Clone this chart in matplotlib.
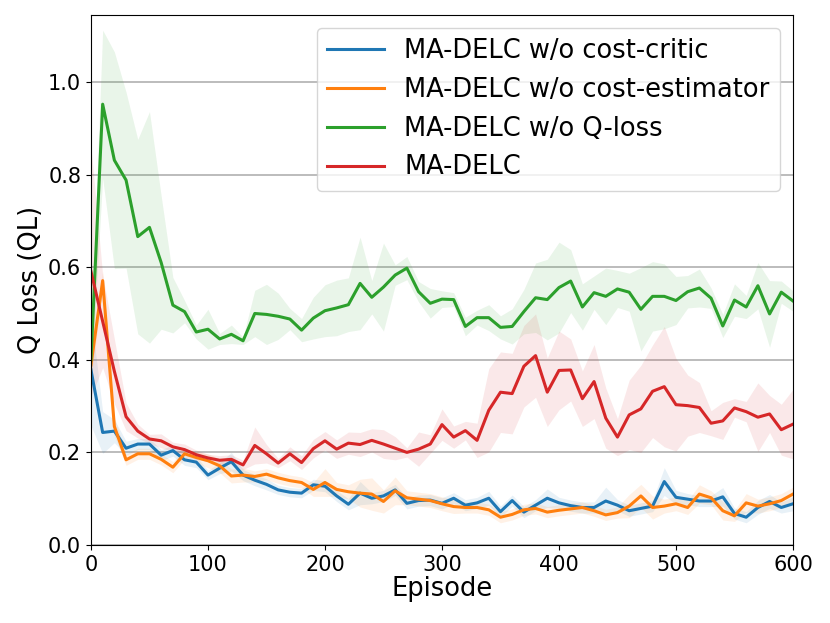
import numpy as np
import matplotlib
matplotlib.use("Agg")
import matplotlib.pyplot as plt

episodes = list(range(0, 601, 10))

labels = ["MA-DELC w/o cost-critic", "MA-DELC w/o cost-estimator",
          "MA-DELC w/o Q-loss", "MA-DELC"]

blue_mean = [0.378, 0.243, 0.246, 0.209, 0.218, 0.218, 0.194, 0.204, 0.184, 0.179,
             0.151, 0.166, 0.180, 0.151, 0.140, 0.131, 0.119, 0.114, 0.112, 0.130,
             0.127, 0.106, 0.088, 0.112, 0.101, 0.106, 0.119, 0.090, 0.096, 0.097,
             0.090, 0.101, 0.086, 0.091, 0.101, 0.072, 0.096, 0.071, 0.086, 0.101,
             0.091, 0.085, 0.081, 0.081, 0.095, 0.086, 0.074, 0.079, 0.084, 0.137,
             0.103, 0.099, 0.095, 0.095, 0.104, 0.068, 0.060, 0.081, 0.094, 0.081,
             0.089]
blue_std = [0.120, 0.045, 0.025, 0.015, 0.012, 0.012, 0.012, 0.012, 0.012, 0.012,
            0.010, 0.012, 0.020, 0.012, 0.012, 0.012, 0.010, 0.010, 0.010, 0.012,
            0.012, 0.012, 0.012, 0.025, 0.012, 0.012, 0.012, 0.012, 0.012, 0.012,
            0.012, 0.012, 0.012, 0.012, 0.015, 0.012, 0.012, 0.012, 0.012, 0.020,
            0.012, 0.012, 0.012, 0.012, 0.030, 0.012, 0.012, 0.012, 0.012, 0.030,
            0.015, 0.012, 0.012, 0.012, 0.020, 0.012, 0.012, 0.015, 0.015, 0.012,
            0.015]

orange_mean = [0.389, 0.571, 0.256, 0.184, 0.197, 0.197, 0.185, 0.168, 0.197, 0.189,
               0.182, 0.171, 0.149, 0.151, 0.148, 0.153, 0.145, 0.139, 0.135, 0.120,
               0.135, 0.120, 0.115, 0.112, 0.110, 0.094, 0.117, 0.102, 0.099, 0.096,
               0.089, 0.083, 0.081, 0.081, 0.076, 0.060, 0.066, 0.076, 0.079, 0.071,
               0.075, 0.078, 0.081, 0.074, 0.065, 0.070, 0.084, 0.106, 0.081, 0.084,
               0.089, 0.081, 0.110, 0.102, 0.074, 0.063, 0.091, 0.084, 0.089, 0.096,
               0.110]
orange_std = [0.030, 0.020, 0.020, 0.012, 0.012, 0.012, 0.012, 0.012, 0.012, 0.012,
              0.015, 0.015, 0.015, 0.015, 0.012, 0.012, 0.012, 0.012, 0.012, 0.015,
              0.030, 0.015, 0.015, 0.030, 0.035, 0.025, 0.030, 0.015, 0.015, 0.015,
              0.015, 0.015, 0.012, 0.012, 0.012, 0.012, 0.012, 0.012, 0.012, 0.012,
              0.012, 0.012, 0.012, 0.012, 0.012, 0.012, 0.025, 0.025, 0.025, 0.015,
              0.015, 0.015, 0.020, 0.015, 0.020, 0.012, 0.020, 0.015, 0.015, 0.015,
              0.015]

green_mean = [0.400, 0.952, 0.831, 0.788, 0.666, 0.686, 0.610, 0.518, 0.504, 0.460,
              0.466, 0.445, 0.455, 0.441, 0.500, 0.498, 0.494, 0.488, 0.464, 0.490,
              0.506, 0.512, 0.519, 0.565, 0.535, 0.557, 0.583, 0.598, 0.547, 0.522,
              0.531, 0.530, 0.472, 0.491, 0.491, 0.470, 0.472, 0.504, 0.534, 0.530,
              0.556, 0.570, 0.514, 0.545, 0.537, 0.553, 0.546, 0.509, 0.537, 0.537,
              0.528, 0.547, 0.555, 0.533, 0.473, 0.529, 0.514, 0.560, 0.499, 0.546,
              0.527]
green_std = [0.050, 0.160, 0.234, 0.190, 0.210, 0.250, 0.144, 0.060, 0.024, 0.015,
             0.043, 0.012, 0.020, 0.008, 0.050, 0.065, 0.050, 0.023, 0.025, 0.045,
             0.056, 0.060, 0.058, 0.100, 0.036, 0.095, 0.022, 0.025, 0.022, 0.032,
             0.018, 0.015, 0.020, 0.016, 0.028, 0.025, 0.038, 0.048, 0.075, 0.087,
             0.098, 0.068, 0.050, 0.036, 0.061, 0.040, 0.041, 0.090, 0.075, 0.070,
             0.052, 0.035, 0.041, 0.022, 0.025, 0.035, 0.025, 0.050, 0.072, 0.024,
             0.022]

red_mean = [0.591, 0.483, 0.375, 0.277, 0.246, 0.229, 0.225, 0.212, 0.206, 0.195,
            0.188, 0.183, 0.185, 0.173, 0.215, 0.197, 0.177, 0.197, 0.178, 0.208,
            0.225, 0.207, 0.220, 0.217, 0.226, 0.218, 0.209, 0.200, 0.207, 0.218,
            0.260, 0.233, 0.247, 0.226, 0.291, 0.330, 0.327, 0.386, 0.409, 0.330,
            0.377, 0.378, 0.316, 0.353, 0.274, 0.233, 0.281, 0.294, 0.332, 0.342,
            0.303, 0.301, 0.297, 0.263, 0.268, 0.296, 0.288, 0.276, 0.283, 0.249,
            0.261]
red_std = [0.270, 0.100, 0.070, 0.030, 0.015, 0.010, 0.015, 0.010, 0.012, 0.010,
           0.008, 0.010, 0.010, 0.010, 0.040, 0.020, 0.010, 0.015, 0.015, 0.020,
           0.020, 0.020, 0.024, 0.026, 0.025, 0.031, 0.025, 0.010, 0.037, 0.020,
           0.034, 0.024, 0.020, 0.037, 0.090, 0.087, 0.087, 0.088, 0.090, 0.074,
           0.085, 0.067, 0.060, 0.080, 0.065, 0.040, 0.075, 0.094, 0.100, 0.130,
           0.100, 0.066, 0.054, 0.027, 0.040, 0.020, 0.022, 0.074, 0.040, 0.055,
           0.075]

colors = ["#1f77b4", "#ff7f0e", "#2ca02c", "#d62728"]
means = [blue_mean, orange_mean, green_mean, red_mean]
stds = [blue_std, orange_std, green_std, red_std]

fig = plt.figure(figsize=(8.3, 6.23), dpi=100)
ax = fig.add_axes([0.1096, 0.1252, 0.8458, 0.851])

x = np.array(episodes)
for m, s, c, lab in zip(means, stds, colors, labels):
    m = np.array(m)
    s = np.array(s)
    ax.plot(x, m, color=c, lw=2.2, label=lab)
    ax.fill_between(x, m - s, m + s, color=c, alpha=0.1, lw=0)

ax.set_xlim(0, 600)
ax.set_ylim(0, 1.145)
ax.set_yticks([0.0, 0.2, 0.4, 0.6, 0.8, 1.0])
ax.grid(axis="y", color="#b0b0b0", lw=1.2)
ax.set_axisbelow(True)
ax.tick_params(labelsize=15)
ax.set_xlabel("Episode", fontsize=18.5, labelpad=1)
ax.set_ylabel("Q Loss (QL)", fontsize=18.5, labelpad=3)
ax.legend(loc="upper right", fontsize=18.5, handlelength=2.2,
          labelspacing=0.5, borderaxespad=0.5)

fig.savefig("out.png", dpi=100)
